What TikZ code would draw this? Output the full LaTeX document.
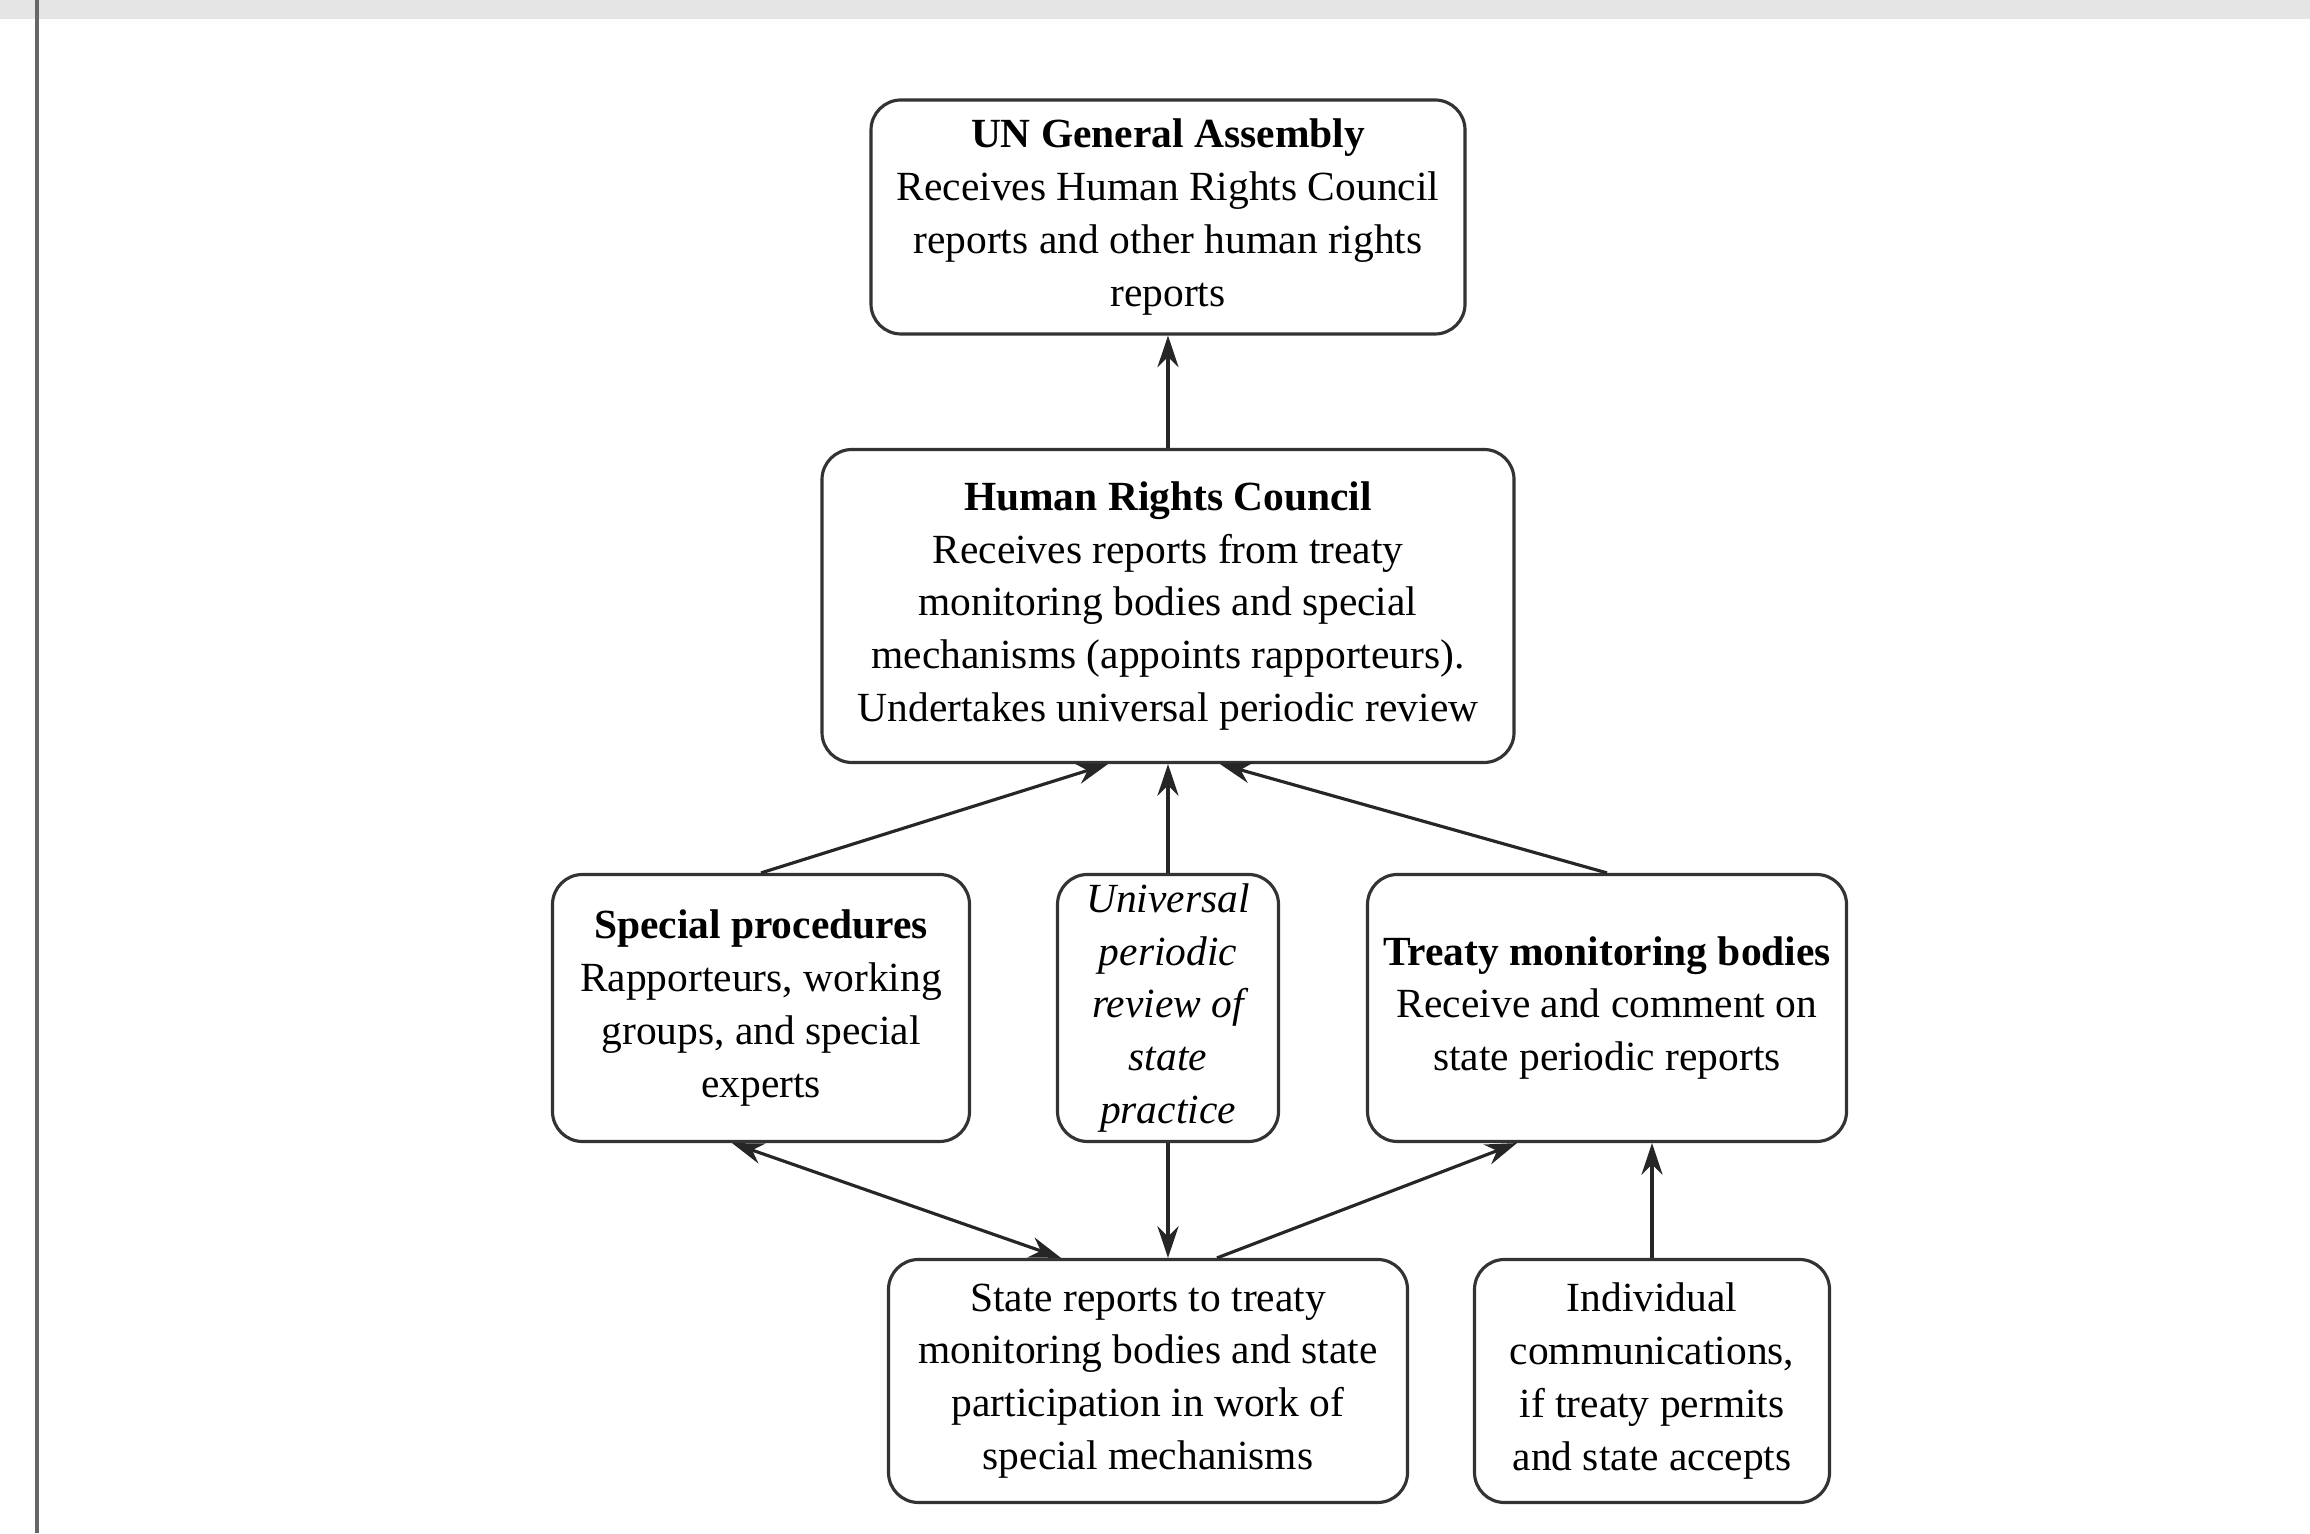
\documentclass[tikz,border=0pt]{standalone}
\usepackage{fontspec}
\setmainfont{Liberation Serif}
\usetikzlibrary{arrows.meta}

\begin{document}
\begin{tikzpicture}[
		kasten/.style={draw=black!80, line width=0.9pt, rounded corners=0.3cm, align=center, inner sep=2pt, font=\fontsize{11.8}{15}\selectfont},
		pfeil/.style={-{Stealth[length=9pt,width=6pt]}, line width=0.9pt, black!85}
	]
				      % Rahmen
				      \useasboundingbox (0,0) rectangle (23.1,15.33);
				      \fill[black!10] (0,15.14) rectangle (23.1,15.33);
				      \draw[black!60, line width=1.2pt] (0.37,0) -- (0.37,15.33);

				      % Kästen
				      \node[kasten, minimum width=5.94cm, minimum height=2.34cm] (unga) at (11.68,13.16)
				      {\textbf{UN General Assembly}\\Receives Human Rights Council\\reports and other human rights\\reports};
				      \node[kasten, minimum width=6.92cm, minimum height=3.13cm] (hrc) at (11.68,9.27)
				      {\textbf{Human Rights Council}\\Receives reports from treaty\\monitoring bodies and special\\mechanisms (appoints rapporteurs).\\Undertakes universal periodic review};
				      \node[kasten, minimum width=4.17cm, minimum height=2.67cm] (sp) at (7.61,5.25)
				      {\textbf{Special procedures}\\Rapporteurs, working\\groups, and special\\experts};
				      \node[kasten, minimum width=2.21cm, minimum height=2.67cm] (upr) at (11.68,5.25)
				      {\itshape Universal\\\itshape periodic\\\itshape review of\\\itshape state\\\itshape practice};
				      \node[kasten, minimum width=4.79cm, minimum height=2.67cm] (tmb) at (16.07,5.25)
				      {\textbf{Treaty monitoring bodies}\\Receive and comment on\\state periodic reports};
				      \node[kasten, minimum width=5.19cm, minimum height=2.43cm] (state) at (11.48,1.52)
				      {State reports to treaty\\monitoring bodies and state\\participation in work of\\special mechanisms};
				      \node[kasten, minimum width=3.55cm, minimum height=2.43cm] (indiv) at (16.52,1.52)
				      {Individual\\communications,\\if treaty permits\\and state accepts};

				      % Pfeile nach oben
				      \draw[pfeil] (hrc) -- (unga);
				      \draw[pfeil] (sp.north) -- ([xshift=-0.6cm]hrc.south);
				      \draw[pfeil] (upr) -- (hrc);
				      \draw[pfeil] (tmb.north) -- ([xshift=0.52cm]hrc.south);

				      % Pfeile unten
				      \draw[pfeil, {Stealth[length=9pt,width=6pt]}-{Stealth[length=9pt,width=6pt]}] ([xshift=-0.29cm]sp.south) -- ([xshift=-0.87cm]state.north);
				      \draw[pfeil] (upr.south) -- (upr.south |- state.north);
				      \draw[pfeil] ([xshift=0.69cm]state.north) -- ([xshift=-0.9cm]tmb.south);
				      \draw[pfeil] (indiv.north) -- (indiv.north |- tmb.south);

			      \end{tikzpicture}
\end{document}
